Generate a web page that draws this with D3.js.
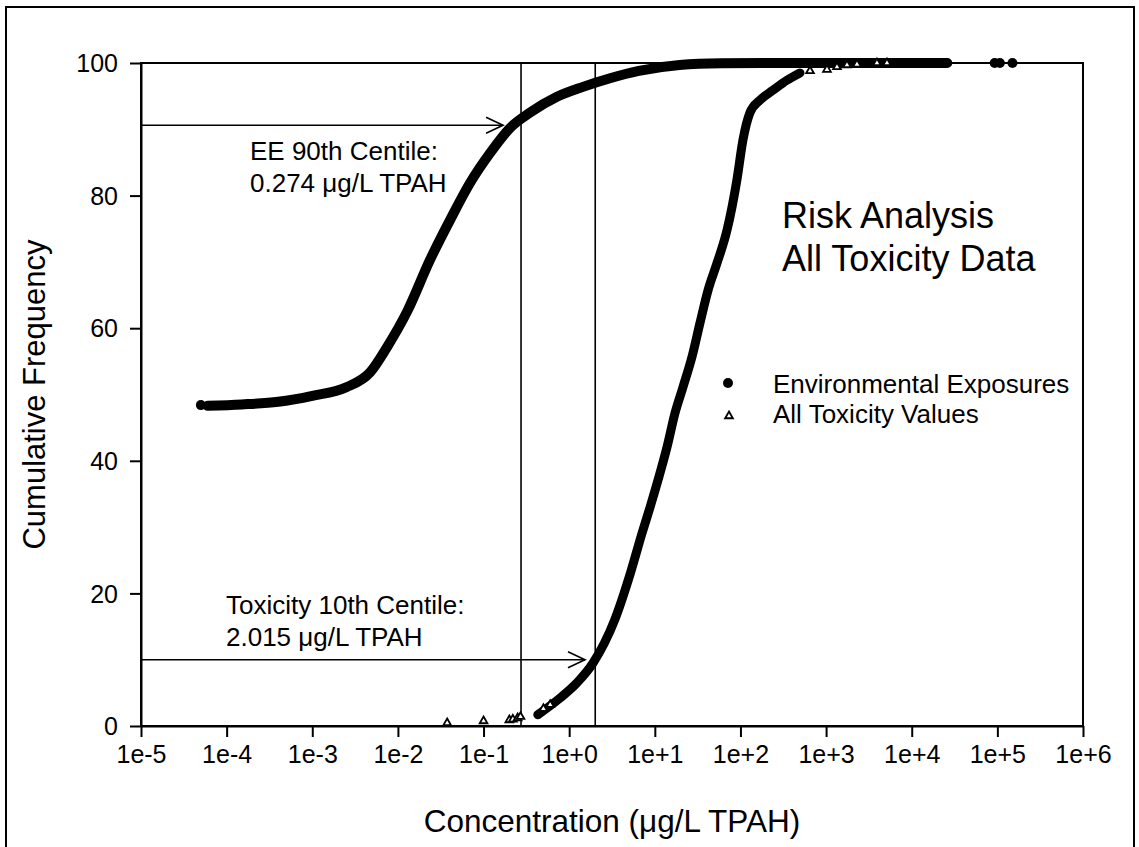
<html>
<head>
    <script src="https://cdnjs.cloudflare.com/ajax/libs/d3/7.8.5/d3.min.js"></script>
    <style>
        body { margin: 0; background: #fff; }
        svg { font-family: "Liberation Sans", Arial, sans-serif; }
    </style>
</head>
<body>
<script>
    // cumulative frequency (%) vs concentration (ug/L TPAH)
    var eeConc = [6e-5, 1.5e-4, 4e-4, 1e-3, 2.5e-3, 4.7e-3, 7.5e-3, 0.0128, 0.0237, 0.0406, 0.0695, 0.119, 0.204, 0.348, 0.72, 1.45, 3.0, 6.5, 19.5, 60, 300, 2000, 26000];
    var eeFreq = [48.3, 48.5, 48.9, 49.8, 51.1, 53.3, 57.2, 62.5, 70.3, 76.3, 81.9, 86.4, 90.2, 92.5, 94.9, 96.4, 97.7, 98.8, 99.7, 99.95, 100, 100, 100];
    var eeDotConc = [5e-5, 9.3e4, 1.07e5, 1.5e5];
    var eeDotFreq = [48.4, 100, 100, 100];

    var toxConc = [0.43, 0.78, 1.23, 1.9, 3.4, 5.2, 7.1, 8.8, 10.9, 13.9, 17.2, 21.3, 27.2, 33.7, 42, 53.2, 69.7, 91, 107, 129, 169, 240, 349, 495];
    var toxFreq = [1.7, 4.2, 6.5, 9.5, 16, 23.1, 29.1, 33, 37.1, 42.1, 47.2, 51.1, 55.7, 60.8, 65.8, 69.8, 74.8, 82.4, 88.4, 92.5, 94.4, 95.9, 97.4, 98.5];
    var toxDotConc = [0.0376, 0.1, 0.2, 0.22, 0.25, 0.27, 0.5, 0.6, 649, 1024, 1340, 1754, 2293, 3926, 5140];
    var toxDotFreq = [0.45, 0.75, 0.9, 1.0, 1.2, 1.4, 2.6, 3.2, 98.8, 99.0, 99.4, 99.7, 99.8, 100, 100];

    var xTickValues = [1e-5, 1e-4, 1e-3, 1e-2, 1e-1, 1e0, 1e1, 1e2, 1e3, 1e4, 1e5, 1e6];
    var xTickLabels = ["1e-5", "1e-4", "1e-3", "1e-2", "1e-1", "1e+0", "1e+1", "1e+2", "1e+3", "1e+4", "1e+5", "1e+6"];
    var yTickValues = [0, 20, 40, 60, 80, 100];

    // centile markers
    var centileConc = [0.274, 2.015];
    var arrowFreq = [90.6, 10];
    var arrowTipConc = [0.169, 1.53];

    var width = 1139, height = 847;
    var pLeft = 141, pRight = 1083, pTop = 63, pBottom = 726;

    var svg = d3.select("body").append("svg")
        .attr("width", width)
        .attr("height", height);

    svg.append("rect")
        .attr("x", 6).attr("y", 7)
        .attr("width", 1128).attr("height", 860)
        .attr("fill", "none")
        .attr("stroke", "#000")
        .attr("stroke-width", 2);

    var x = d3.scaleLog().domain([1e-5, 1e6]).range([pLeft, pRight]);
    var y = d3.scaleLinear().domain([0, 100]).range([pBottom, pTop]);

    // frame
    svg.append("rect")
        .attr("x", pLeft).attr("y", pTop)
        .attr("width", pRight - pLeft).attr("height", pBottom - pTop)
        .attr("fill", "none")
        .attr("stroke", "#000")
        .attr("stroke-width", 2);

    var xAxis = d3.axisBottom(x)
        .tickValues(xTickValues)
        .tickFormat(function (d, i) { return xTickLabels[i]; })
        .tickSizeInner(11).tickSizeOuter(0).tickPadding(10);
    var xg = svg.append("g")
        .attr("transform", "translate(0," + pBottom + ")")
        .call(xAxis);

    var yAxis = d3.axisLeft(y)
        .tickValues(yTickValues)
        .tickSizeInner(11).tickSizeOuter(0).tickPadding(12);
    var yg = svg.append("g")
        .attr("transform", "translate(" + pLeft + ",0)")
        .call(yAxis);

    [xg, yg].forEach(function (g) {
        g.select(".domain").attr("stroke-width", 2);
        g.selectAll(".tick line").attr("stroke-width", 2);
        g.selectAll(".tick text")
            .attr("fill", "#000")
            .style("font-size", "25px")
            .style("font-family", "Liberation Sans, Arial, sans-serif");
    });
    xg.selectAll(".tick text").attr("dy", "0.71em").attr("y", 19);
    yg.selectAll(".tick text").attr("dy", "0.35em");

    // centile vertical lines
    svg.selectAll(".vline")
        .data(centileConc)
        .enter().append("line")
        .attr("x1", function (d) { return x(d); })
        .attr("x2", function (d) { return x(d); })
        .attr("y1", y(0)).attr("y2", y(100))
        .attr("stroke", "#000")
        .attr("stroke-width", 1.6);

    // arrows
    arrowFreq.forEach(function (f, i) {
        var tx = x(arrowTipConc[i]), ty = y(f);
        svg.append("line")
            .attr("x1", x(1e-5)).attr("x2", tx)
            .attr("y1", ty).attr("y2", ty)
            .attr("stroke", "#000").attr("stroke-width", 1.6);
        svg.append("path")
            .attr("d", "M" + (tx - 17) + "," + (ty - 8) + "L" + tx + "," + ty + "L" + (tx - 17) + "," + (ty + 8))
            .attr("fill", "none")
            .attr("stroke", "#000").attr("stroke-width", 1.6);
    });

    // dense parts of both series: markers overlap into a solid band
    var line = d3.line()
        .x(function (d) { return x(d[0]); })
        .y(function (d) { return y(d[1]); })
        .curve(d3.curveMonotoneX);

    var ee = eeConc.map(function (c, i) { return [c, eeFreq[i]]; });
    var tox = toxConc.map(function (c, i) { return [c, toxFreq[i]]; });

    svg.append("path")
        .datum(tox)
        .attr("d", line)
        .attr("fill", "none")
        .attr("stroke", "#000")
        .attr("stroke-width", 9)
        .attr("stroke-linecap", "round")
        .attr("stroke-linejoin", "round");

    svg.append("path")
        .datum(ee)
        .attr("d", line)
        .attr("fill", "none")
        .attr("stroke", "#000")
        .attr("stroke-width", 10)
        .attr("stroke-linecap", "round")
        .attr("stroke-linejoin", "round");

    svg.selectAll(".eedot")
        .data(eeDotConc)
        .enter().append("circle")
        .attr("cx", function (d) { return x(d); })
        .attr("cy", function (d, i) { return y(eeDotFreq[i]); })
        .attr("r", 5)
        .attr("fill", "#000");

    var tri = d3.symbol().type(d3.symbolTriangle).size(26);
    svg.selectAll(".toxdot")
        .data(toxDotConc)
        .enter().append("path")
        .attr("d", tri)
        .attr("transform", function (d, i) { return "translate(" + x(d) + "," + y(toxDotFreq[i]) + ")"; })
        .attr("fill", "#fff")
        .attr("stroke", "#000")
        .attr("stroke-width", 1.8);

    // annotations
    function textLines(xp, yp, lines, size, gap) {
        var t = svg.append("text")
            .attr("x", xp).attr("y", yp)
            .attr("fill", "#000")
            .style("font-size", size + "px");
        lines.forEach(function (s, i) {
            t.append("tspan").attr("x", xp).attr("y", yp + i * gap).text(s);
        });
    }
    textLines(250, 160, ["EE 90th Centile:", "0.274 \u03bcg/L TPAH"], 26, 32);
    textLines(226, 614, ["Toxicity 10th Centile:", "2.015 \u03bcg/L TPAH"], 26, 32);
    textLines(782, 228, ["Risk Analysis", "All Toxicity Data"], 36, 43);

    // legend
    svg.append("circle").attr("cx", 728).attr("cy", 383).attr("r", 5).attr("fill", "#000");
    svg.append("path").attr("d", tri)
        .attr("transform", "translate(729,416)")
        .attr("fill", "#fff").attr("stroke", "#000").attr("stroke-width", 1.8);
    textLines(773, 393, ["Environmental Exposures", "All Toxicity Values"], 26, 30);

    // axis titles
    svg.append("text")
        .attr("x", (pLeft + pRight) / 2).attr("y", 832)
        .attr("text-anchor", "middle")
        .style("font-size", "31.5px")
        .text("Concentration (\u03bcg/L TPAH)");

    svg.append("text")
        .attr("transform", "translate(45," + ((pTop + pBottom) / 2) + ") rotate(-90)")
        .attr("text-anchor", "middle")
        .style("font-size", "31px")
        .text("Cumulative Frequency");
</script>
</body>
</html>
